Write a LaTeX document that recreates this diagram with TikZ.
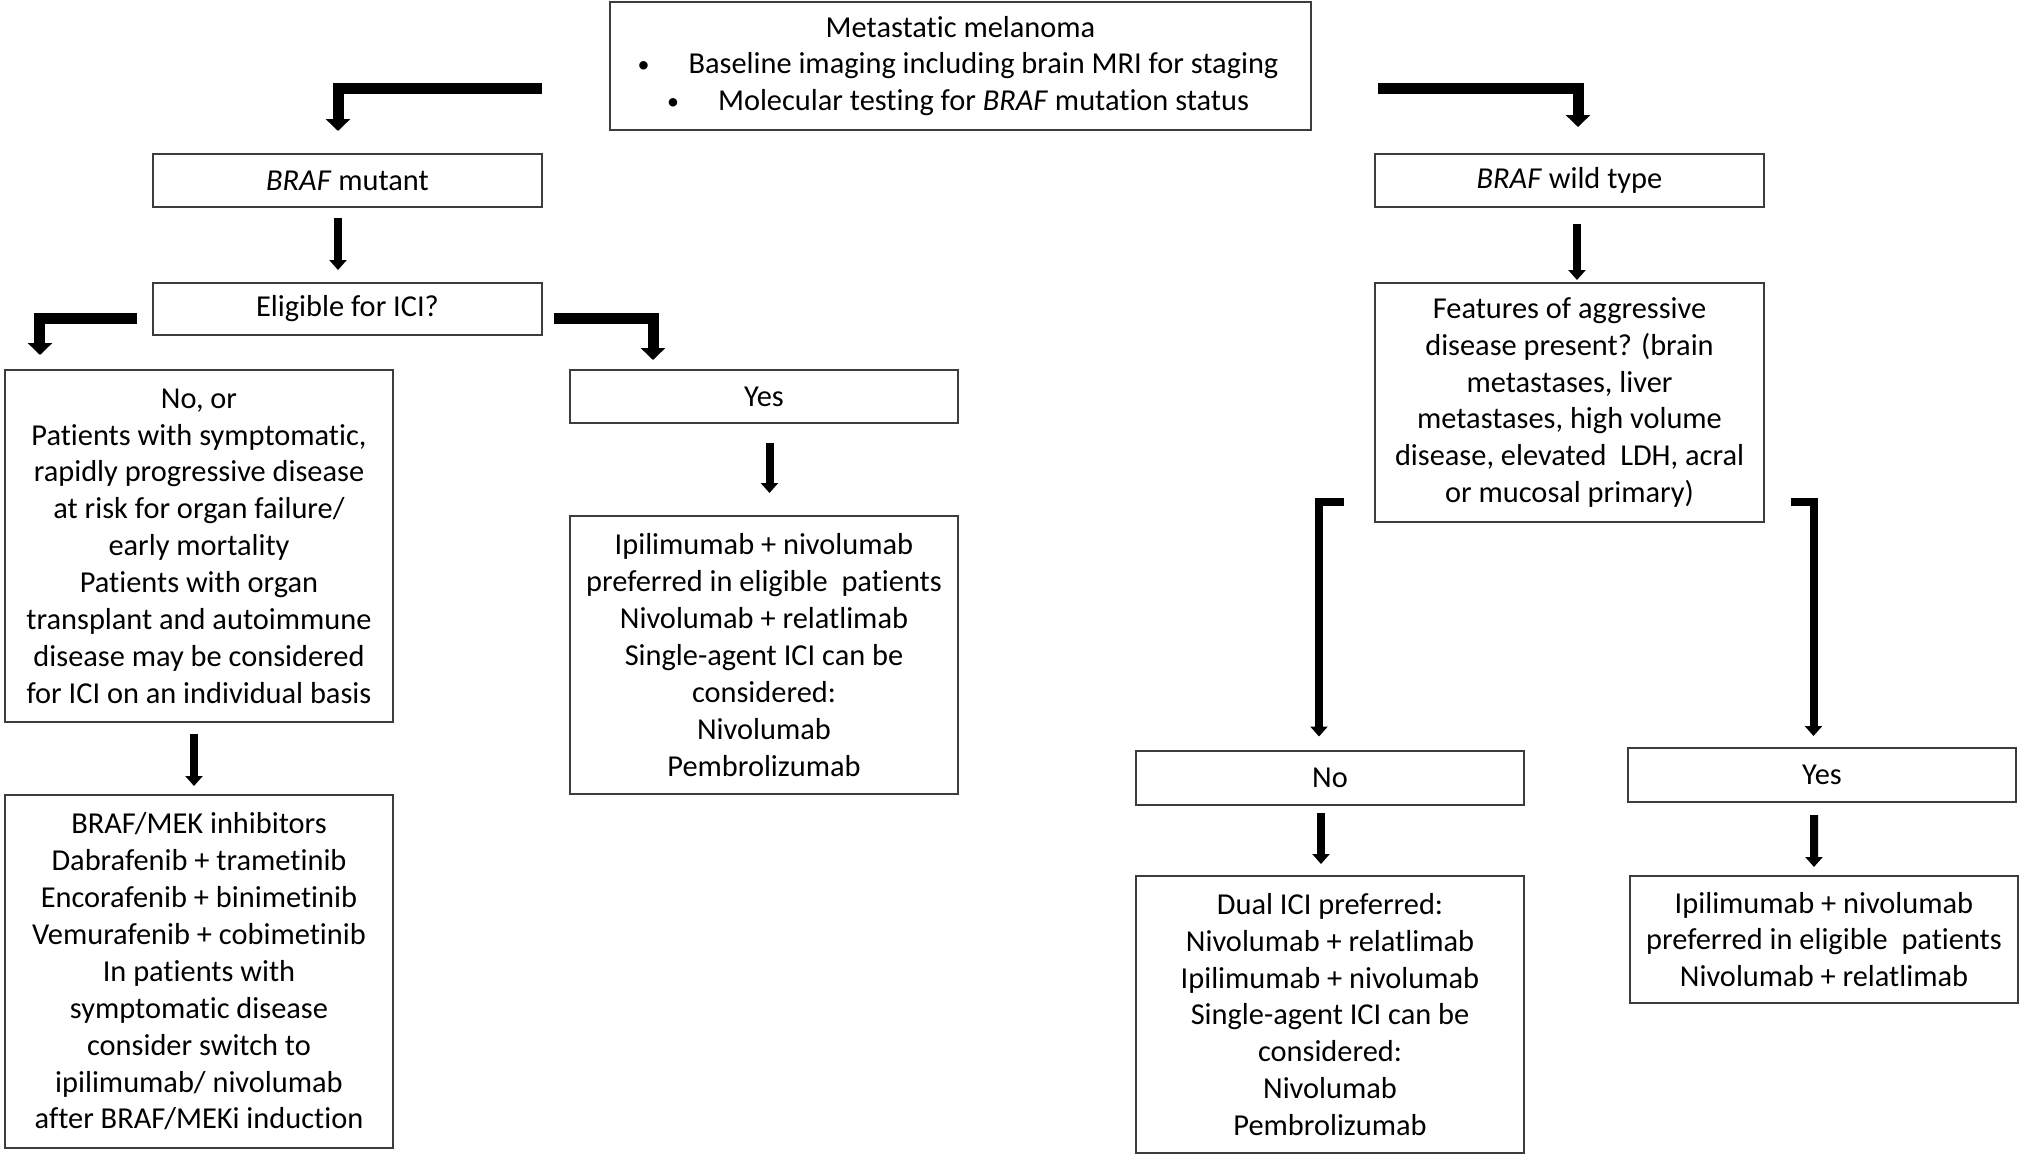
\documentclass[tikz,border=0pt]{standalone}
\usepackage{fontspec}
\setmainfont{Carlito}[Ligatures=NoCommon]
\usetikzlibrary{arrows.meta}
\definecolor{boxline}{RGB}{60,60,60}
\newcommand{\mybul}{\makebox[46bp][l]{\hspace{-5bp}\raisebox{1bp}{\fontsize{24}{24}\selectfont •}}}
\begin{document}
\begin{tikzpicture}[x=1bp,y=-1bp,
  box/.style={draw=boxline, line width=2bp, align=center, inner sep=0pt,
    font=\fontsize{30.5}{37}\selectfont, text=black},
  thickarr/.style={line width=11bp, line join=miter, -{Triangle[width=24bp,length=12bp]}},
  medarr/.style={line width=8bp, line join=miter, -{Triangle[width=17bp,length=10bp]}},
]
\useasboundingbox[fill=white] (0,0) rectangle (2030,1161);

% nodes
\node[box, minimum width=701bp, minimum height=128bp] (top) at (960.5,66)
  {Metastatic melanoma\\
   \mybul Baseline imaging including brain MRI for staging\\
   \mybul Molecular testing for \textit{BRAF} mutation status};
\node[box, minimum width=389bp, minimum height=53bp] (bm) at (347.5,180.5) {\textit{BRAF} mutant};
\node[box, minimum width=389bp, minimum height=53bp] (wt) at (1569.5,180.5) {\textit{BRAF} wild type};
\node[box, minimum width=389bp, minimum height=52bp] (elig) at (347.5,309) {Eligible for ICI?};
\node[box, minimum width=388bp, minimum height=352bp] (noor) at (199,546)
  {No, or\\ Patients with symptomatic,\\ rapidly progressive disease\\ at risk for organ failure/\\
   early mortality\\ Patients with organ\\ transplant and autoimmune\\ disease may be considered\\
   for ICI on an individual basis};
\node[box, minimum width=388bp, minimum height=53bp] (yesL) at (764,396.5) {Yes};
\node[box, minimum width=388bp, minimum height=278bp] (ipiL) at (764,655)
  {Ipilimumab + nivolumab\\ preferred in eligible\ \ patients\\ Nivolumab + relatlimab\\
   Single-agent ICI can be\\ considered:\\ Nivolumab\\ Pembrolizumab};
\node[box, minimum width=388bp, minimum height=353bp] (bmek) at (199,971.5)
  {BRAF/MEK inhibitors\\ Dabrafenib + trametinib\\ Encorafenib + binimetinib\\ Vemurafenib + cobimetinib\\
   In patients with\\ symptomatic disease\\ consider switch to\\ ipilimumab/ nivolumab\\ after BRAF/MEKi induction};
\node[box, minimum width=389bp, minimum height=239bp] (feat) at (1569.5,402.5)
  {Features of aggressive\\ disease present? (brain\\ metastases, liver\\ metastases, high volume\\
   disease, elevated\ \ LDH, acral\\ or mucosal primary)};
\node[box, minimum width=388bp, minimum height=54bp] (noR) at (1330,777.5) {No};
\node[box, minimum width=388bp, minimum height=54bp] (yesR) at (1822,774.5) {Yes};
\node[box, minimum width=388bp, minimum height=277bp] (dual) at (1330,1014.5)
  {Dual ICI preferred:\\ Nivolumab + relatlimab\\ Ipilimumab + nivolumab\\ Single-agent ICI can be\\
   considered:\\ Nivolumab\\ Pembrolizumab};
\node[box, minimum width=388bp, minimum height=127bp] (ipiR) at (1824,939.5)
  {Ipilimumab + nivolumab\\ preferred in eligible\ \ patients\\ Nivolumab + relatlimab};

% elbow connectors
\draw[thickarr, shorten >=22bp] ([xshift=-67bp,yshift=-22.5bp]top.west) -| ([xshift=-9.5bp]bm.north);
\draw[thickarr, shorten >=26bp] ([xshift=66bp,yshift=-22.5bp]top.east) -| ([xshift=8.5bp]wt.north);
\draw[thickarr, shorten >=14bp] ([xshift=-15bp,yshift=-9bp]elig.west) -| ([xshift=-159bp]noor.north);
\draw[thickarr, shorten >=9bp] ([xshift=11bp,yshift=-9bp]elig.east) -| ([xshift=-111bp]yesL.north);
\draw[medarr, shorten >=13bp] ([xshift=-30bp,yshift=-99.5bp]feat.west) -| ([xshift=-11bp]noR.north);
\draw[medarr, shorten >=10.5bp] ([xshift=26bp,yshift=-99.5bp]feat.east) -| ([xshift=-8.5bp]yesR.north);

% straight connectors
\draw[medarr, shorten <=10bp, shorten >=12bp] ([xshift=-9.5bp]bm.south) -- ([xshift=-9.5bp]elig.north);
\draw[medarr, shorten <=19bp, shorten >=22bp] ([xshift=5.5bp]yesL.south) -- ([xshift=5.5bp]ipiL.north);
\draw[medarr, shorten <=11bp, shorten >=8bp] ([xshift=-5bp]noor.south) -- ([xshift=-5bp]bmek.north);
\draw[medarr, shorten <=16bp, shorten >=2bp] ([xshift=7.5bp]wt.south) -- ([xshift=7.5bp]feat.north);
\draw[medarr, shorten <=7.5bp, shorten >=11bp] ([xshift=-9bp]noR.south) -- ([xshift=-9bp]dual.north);
\draw[medarr, shorten <=12.5bp, shorten >=8bp] ([xshift=-8bp]yesR.south) -- ([xshift=-10bp]ipiR.north);
\end{tikzpicture}
\end{document}
